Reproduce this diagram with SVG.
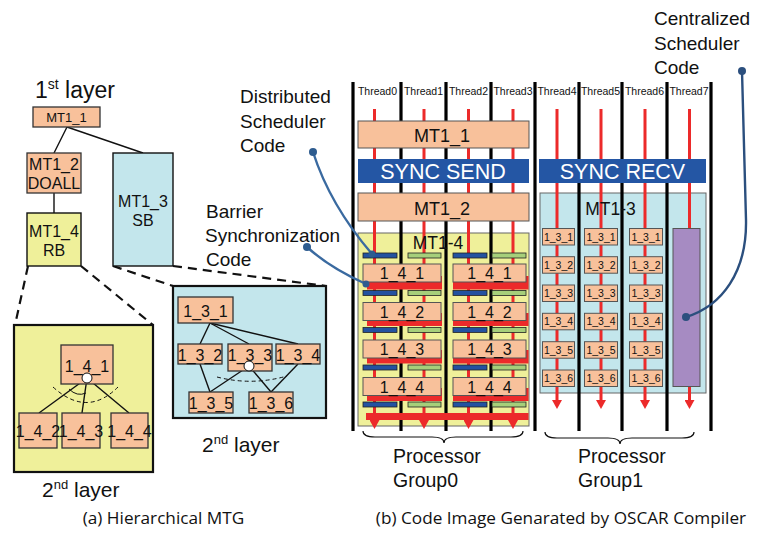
<svg xmlns="http://www.w3.org/2000/svg" width="762" height="535" viewBox="0 0 762 535">
<style>
text{font-family:"Liberation Sans",Arial,sans-serif;fill:#111}
.c{text-anchor:middle}
.cap{font-family:"Open Sans","Liberation Sans",sans-serif;font-size:17.2px}
.pe{fill:#f8c19b;stroke:#333;stroke-width:1.3}
.pr{fill:#f8c19b;stroke:#555;stroke-width:1}
.ye{fill:#eff09a;stroke:#111;stroke-width:2.2}
.lb{fill:#c3e6ec;stroke:#111;stroke-width:2.2}
.yer{fill:#eff09a;stroke:#666;stroke-width:1}
.lbr{fill:#c3e6ec;stroke:#666;stroke-width:1}
.dash{stroke:#111;stroke-width:2.2;stroke-dasharray:9,6;fill:none}
.ln{stroke:#111;stroke-width:1.4;fill:none}
.th{stroke:#000;stroke-width:3.2}
.rd{stroke:#ec2a2a;stroke-width:3;marker-end:url(#ar)}
.bb{fill:#2352a0;stroke:#222;stroke-width:0.8}
.gb{fill:#a6cf7a;stroke:#222;stroke-width:0.8}
.rb{fill:#ec2a2a}
.sy{fill:#2456a4}
.cv{fill:none;stroke:#3a6aa0;stroke-width:2.4}
.dot{fill:#2e5c8f}
.brace{fill:none;stroke:#111;stroke-width:1.2}
.tl{font-size:10.5px}
.t4{font-size:16px}
.t3{font-size:10.5px}
.ta{font-size:16px}
</style>
<defs>
<marker id="ar" viewBox="0 0 9 10" refX="0" refY="5" markerWidth="9" markerHeight="10" markerUnits="userSpaceOnUse" orient="auto">
<path d="M0,0 L9,5 L0,10 z" fill="#ec2a2a"/>
</marker>
</defs>

<!-- ===== (a) Hierarchical MTG ===== -->
<text x="35" y="98" font-size="23">1<tspan font-size="14" dy="-9">st</tspan><tspan dy="9"> layer</tspan></text>

<g id="edges-a">
<line class="ln" x1="67" y1="127" x2="54" y2="153"/>
<line class="ln" x1="67" y1="127" x2="143" y2="153"/>
<line class="ln" x1="54" y1="193" x2="54" y2="213"/>
<line class="dash" x1="28" y1="266" x2="15" y2="325"/>
<line class="dash" x1="81" y1="266" x2="153" y2="325"/>
<line class="dash" x1="113" y1="266" x2="173" y2="286"/>
<line class="dash" x1="173" y1="266" x2="326" y2="286"/>
</g>

<g id="mt1_1a"><rect class="pe" x="33" y="107" width="67" height="20"/><text class="c" x="66.5" y="122" font-size="13">MT1_1</text></g>
<g id="mt1_2a"><rect class="pe" x="27" y="153" width="54" height="40"/><text class="c ta" x="54" y="170">MT1_2</text><text class="c ta" x="54" y="188.5">DOALL</text></g>
<g id="mt1_3a"><rect class="lb" style="stroke-width:1.4" x="113" y="153" width="60" height="113"/><text class="c ta" x="143" y="207">MT1_3</text><text class="c ta" x="143" y="226">SB</text></g>
<g id="mt1_4a"><rect class="ye" style="stroke-width:1.4" x="27" y="213" width="54" height="53"/><text class="c ta" x="54" y="237">MT1_4</text><text class="c ta" x="54" y="255.5">RB</text></g>

<g id="layer2-rb">
<rect class="ye" x="14" y="325" width="139" height="147"/>
<line class="ln" x1="87" y1="378" x2="39" y2="413"/>
<line class="ln" x1="87" y1="378" x2="82" y2="413"/>
<line class="ln" x1="87" y1="378" x2="129" y2="413"/>
<path d="M53,387 Q87,418 118,387" fill="none" stroke="#111" stroke-width="1" stroke-dasharray="4,3"/>
<path d="M69,389 Q77,397 86,393" fill="none" stroke="#111" stroke-width="1"/>
<g id="n1_4_1"><rect class="pe" x="61" y="345" width="52" height="39"/><text class="c ta" x="87" y="371.5">1_4_1</text></g>
<circle cx="87" cy="378" r="5" fill="#fff" stroke="#111" stroke-width="1"/>
<g id="n1_4_2"><rect class="pe" x="19" y="413" width="38" height="35"/><text class="c ta" x="38" y="436.5">1_4_2</text></g>
<g id="n1_4_3"><rect class="pe" x="62" y="413" width="38" height="35"/><text class="c ta" x="81" y="436.5">1_4_3</text></g>
<g id="n1_4_4"><rect class="pe" x="111" y="413" width="37" height="35"/><text class="c ta" x="129.5" y="436.5">1_4_4</text></g>
</g>
<text x="42" y="497" font-size="21">2<tspan font-size="13" dy="-8">nd</tspan><tspan dy="8"> layer</tspan></text>

<g id="layer2-sb">
<rect class="lb" x="173" y="286" width="153" height="132"/>
<line class="ln" x1="210" y1="323" x2="200" y2="344"/>
<line class="ln" x1="210" y1="323" x2="249" y2="344"/>
<line class="ln" x1="210" y1="323" x2="298" y2="344"/>
<line class="ln" x1="200" y1="364" x2="210" y2="392"/>
<line class="ln" x1="249" y1="366" x2="210" y2="392"/>
<line class="ln" x1="249" y1="366" x2="271" y2="392"/>
<line class="ln" x1="298" y1="364" x2="271" y2="392"/>
<path d="M217,377 Q252,386 287,376" fill="none" stroke="#111" stroke-width="1" stroke-dasharray="4,3"/>
<g id="n1_3_1"><rect class="pe" x="178" y="297" width="55" height="26"/><text class="c ta" x="205.5" y="316.5">1_3_1</text></g>
<g id="n1_3_2"><rect class="pe" x="178" y="344" width="44" height="20"/><text class="c ta" x="200" y="361">1_3_2</text></g>
<g id="n1_3_3"><rect class="pe" x="228" y="344" width="44" height="27"/><text class="c ta" x="250" y="361">1_3_3</text></g>
<g id="n1_3_4"><rect class="pe" x="276" y="344" width="44" height="20"/><text class="c ta" x="298" y="361">1_3_4</text></g>
<circle cx="249" cy="366" r="5" fill="#fff" stroke="#111" stroke-width="1"/>
<g id="n1_3_5"><rect class="pe" x="189" y="392" width="44" height="21"/><text class="c ta" x="211" y="409">1_3_5</text></g>
<g id="n1_3_6"><rect class="pe" x="249" y="392" width="44" height="21"/><text class="c ta" x="271" y="409">1_3_6</text></g>
</g>
<text x="202" y="452" font-size="21">2<tspan font-size="13" dy="-8">nd</tspan><tspan dy="8"> layer</tspan></text>

<text class="cap c" x="163.5" y="524">(a) Hierarchical MTG</text>

<!-- ===== (b) Code image ===== -->
<g id="mt1_4b-box"><rect class="yer" x="358" y="233" width="171" height="193"/></g>
<g id="mt1_3b-box"><rect class="lbr" x="540" y="193" width="166" height="200"/></g>

<g id="threads">
<line class="th" x1="353" y1="82" x2="353" y2="431"/>
<line class="th" x1="401" y1="82" x2="401" y2="431"/>
<line class="th" x1="446" y1="82" x2="446" y2="431"/>
<line class="th" x1="491" y1="82" x2="491" y2="431"/>
<line class="th" x1="535" y1="82" x2="535" y2="431"/>
<line class="th" x1="579" y1="82" x2="579" y2="431"/>
<line class="th" x1="622" y1="82" x2="622" y2="431"/>
<line class="th" x1="667" y1="82" x2="667" y2="431"/>
<line class="th" x1="711" y1="82" x2="711" y2="431"/>
<text class="c tl" x="377.5" y="95">Thread0</text>
<text class="c tl" x="423.5" y="95">Thread1</text>
<text class="c tl" x="468.5" y="95">Thread2</text>
<text class="c tl" x="513" y="95">Thread3</text>
<text class="c tl" x="557" y="95">Thread4</text>
<text class="c tl" x="600.5" y="95">Thread5</text>
<text class="c tl" x="644.5" y="95">Thread6</text>
<text class="c tl" x="689" y="95">Thread7</text>
<line class="rd" x1="374.5" y1="109" x2="374.5" y2="420"/>
<line class="rd" x1="424" y1="109" x2="424" y2="420"/>
<line class="rd" x1="468.5" y1="109" x2="468.5" y2="420"/>
<line class="rd" x1="513" y1="109" x2="513" y2="420"/>
<line class="rd" x1="557" y1="109" x2="557" y2="400"/>
<line class="rd" x1="601" y1="109" x2="601" y2="400"/>
<line class="rd" x1="645" y1="109" x2="645" y2="400"/>
<line class="rd" x1="689.5" y1="109" x2="689.5" y2="400"/>
</g>

<g id="mt1_1b"><rect class="pr" x="358" y="121" width="171" height="27"/><text class="c" x="442" y="142" font-size="18">MT1_1</text></g>
<g id="sync-send"><rect class="sy" x="358" y="159" width="171" height="24"/><text class="c" x="443" y="179" font-size="21.5" style="fill:#fff">SYNC SEND</text></g>
<g id="sync-recv"><rect class="sy" x="539" y="159" width="167" height="24"/><text class="c" x="622.5" y="179" font-size="21.5" style="fill:#fff">SYNC RECV</text></g>
<g id="mt1_2b"><rect class="pr" x="358" y="193" width="171" height="28"/><text class="c" x="442" y="215" font-size="18">MT1_2</text></g>

<g id="mt1_4b">
<text class="c" x="438" y="249" font-size="17.5">MT1-4</text>
<g id="bars">
<rect class="bb" x="363" y="253" width="34" height="5"/><rect class="gb" x="408" y="253" width="33" height="5"/><rect class="bb" x="453" y="253" width="34" height="5"/><rect class="gb" x="492" y="253" width="34" height="5"/>
<rect class="bb" x="363" y="290.5" width="34" height="5"/><rect class="gb" x="408" y="290.5" width="33" height="5"/><rect class="bb" x="453" y="290.5" width="34" height="5"/><rect class="gb" x="492" y="290.5" width="34" height="5"/>
<rect class="bb" x="363" y="327.5" width="34" height="5"/><rect class="gb" x="408" y="327.5" width="33" height="5"/><rect class="bb" x="453" y="327.5" width="34" height="5"/><rect class="gb" x="492" y="327.5" width="34" height="5"/>
<rect class="bb" x="363" y="365" width="34" height="5"/><rect class="gb" x="408" y="365" width="33" height="5"/><rect class="bb" x="453" y="365" width="34" height="5"/><rect class="gb" x="492" y="365" width="34" height="5"/>
<rect class="bb" x="363" y="402" width="34" height="5"/><rect class="gb" x="408" y="402" width="33" height="5"/><rect class="bb" x="453" y="402" width="34" height="5"/><rect class="gb" x="492" y="402" width="34" height="5"/>
</g>
<g id="barriers">
<rect class="rb" x="367" y="276" width="75" height="13.5"/><rect class="rb" x="453" y="276" width="75.5" height="13.5"/>
<rect class="rb" x="367" y="313" width="75" height="13"/><rect class="rb" x="453" y="313" width="75.5" height="13"/>
<rect class="rb" x="367" y="350" width="75" height="13.5"/><rect class="rb" x="453" y="350" width="75.5" height="13.5"/>
<rect class="rb" x="367" y="388" width="75" height="13"/><rect class="rb" x="453" y="388" width="75.5" height="13"/>
<rect class="rb" x="366" y="413" width="162.5" height="7"/>
</g>
<g id="b1_4_1"><rect class="pr" x="363" y="264" width="78" height="18"/><text class="c t4" x="402" y="279">1_4_1</text><rect class="pr" x="453" y="264" width="73" height="18"/><text class="c t4" x="489.5" y="279">1_4_1</text></g>
<g id="b1_4_2"><rect class="pr" x="363" y="302.5" width="78" height="18"/><text class="c t4" x="402" y="317.5">1_4_2</text><rect class="pr" x="453" y="302.5" width="73" height="18"/><text class="c t4" x="489.5" y="317.5">1_4_2</text></g>
<g id="b1_4_3"><rect class="pr" x="363" y="340" width="78" height="18"/><text class="c t4" x="402" y="355">1_4_3</text><rect class="pr" x="453" y="340" width="73" height="18"/><text class="c t4" x="489.5" y="355">1_4_3</text></g>
<g id="b1_4_4"><rect class="pr" x="363" y="377.5" width="78" height="18"/><text class="c t4" x="402" y="392.5">1_4_4</text><rect class="pr" x="453" y="377.5" width="73" height="18"/><text class="c t4" x="489.5" y="392.5">1_4_4</text></g>
</g>

<g id="mt1_3b">
<text class="c" x="610.5" y="215" font-size="17.5">MT1-3</text>
<g id="c4">
<rect class="pr" x="542.5" y="228.5" width="32" height="16.5"/><text class="c t3" x="558.5" y="240.5">1_3_1</text>
<rect class="pr" x="542.5" y="256.7" width="32" height="16.5"/><text class="c t3" x="558.5" y="268.7">1_3_2</text>
<rect class="pr" x="542.5" y="285" width="32" height="16.5"/><text class="c t3" x="558.5" y="297">1_3_3</text>
<rect class="pr" x="542.5" y="313.3" width="32" height="16.5"/><text class="c t3" x="558.5" y="325.3">1_3_4</text>
<rect class="pr" x="542.5" y="341.7" width="32" height="16.5"/><text class="c t3" x="558.5" y="353.7">1_3_5</text>
<rect class="pr" x="542.5" y="370" width="32" height="16.5"/><text class="c t3" x="558.5" y="382">1_3_6</text>
</g>
<g id="c5">
<rect class="pr" x="584.5" y="228.5" width="33" height="16.5"/><text class="c t3" x="601" y="240.5">1_3_1</text>
<rect class="pr" x="584.5" y="256.7" width="33" height="16.5"/><text class="c t3" x="601" y="268.7">1_3_2</text>
<rect class="pr" x="584.5" y="285" width="33" height="16.5"/><text class="c t3" x="601" y="297">1_3_3</text>
<rect class="pr" x="584.5" y="313.3" width="33" height="16.5"/><text class="c t3" x="601" y="325.3">1_3_4</text>
<rect class="pr" x="584.5" y="341.7" width="33" height="16.5"/><text class="c t3" x="601" y="353.7">1_3_5</text>
<rect class="pr" x="584.5" y="370" width="33" height="16.5"/><text class="c t3" x="601" y="382">1_3_6</text>
</g>
<g id="c6">
<rect class="pr" x="629.5" y="228.5" width="33" height="16.5"/><text class="c t3" x="646" y="240.5">1_3_1</text>
<rect class="pr" x="629.5" y="256.7" width="33" height="16.5"/><text class="c t3" x="646" y="268.7">1_3_2</text>
<rect class="pr" x="629.5" y="285" width="33" height="16.5"/><text class="c t3" x="646" y="297">1_3_3</text>
<rect class="pr" x="629.5" y="313.3" width="33" height="16.5"/><text class="c t3" x="646" y="325.3">1_3_4</text>
<rect class="pr" x="629.5" y="341.7" width="33" height="16.5"/><text class="c t3" x="646" y="353.7">1_3_5</text>
<rect class="pr" x="629.5" y="370" width="33" height="16.5"/><text class="c t3" x="646" y="382">1_3_6</text>
</g>
<rect id="central" x="673" y="228.5" width="27" height="158" fill="#a68bc2" stroke="#555" stroke-width="1"/>
</g>

<g id="callouts">
<text x="240" y="103" font-size="19">Distributed</text>
<text x="240" y="127.5" font-size="19">Scheduler</text>
<text x="240" y="152" font-size="19">Code</text>
<text x="206" y="218" font-size="19">Barrier</text>
<text x="205" y="242" font-size="19">Synchronization</text>
<text x="206" y="266" font-size="19">Code</text>
<text x="654" y="25" font-size="19">Centralized</text>
<text x="654" y="49.5" font-size="19">Scheduler</text>
<text x="654" y="74" font-size="19">Code</text>
</g>
<g id="connectors">
<path class="cv" d="M313,152 Q330,205 372,254"/>
<circle class="dot" cx="313" cy="152" r="4"/>
<circle class="dot" cx="372" cy="254" r="3.5"/>
<path class="cv" d="M307,247 Q330,268 366,284"/>
<circle class="dot" cx="307" cy="247" r="4"/>
<circle class="dot" cx="366" cy="284" r="3.5"/>
<path class="cv" style="stroke:#2b4f7e" d="M742,71 L746,220 C747,272 722,306 686,317"/>
<circle class="dot" style="fill:#2b4f7e" cx="742" cy="71" r="4"/>
<circle class="dot" style="fill:#2b4f7e" cx="686" cy="317" r="4"/>
</g>

<g id="groups">
<path class="brace" d="M363,431 Q363,437 375,437 L432,437 Q444,437 444,443 Q444,437 456,437 L511,437 Q523,437 523,431"/>
<path class="brace" d="M545,432 Q545,438 557,438 L608,438 Q620,438 620,444 Q620,438 632,438 L682,438 Q694,438 694,432"/>
<text x="393" y="463" font-size="19.5">Processor</text>
<text x="393" y="487" font-size="19.5">Group0</text>
<text x="578" y="463" font-size="19.5">Processor</text>
<text x="578" y="487" font-size="19.5">Group1</text>
</g>

<text class="cap c" x="561" y="524">(b) Code Image Genarated by OSCAR Compiler</text>
</svg>
